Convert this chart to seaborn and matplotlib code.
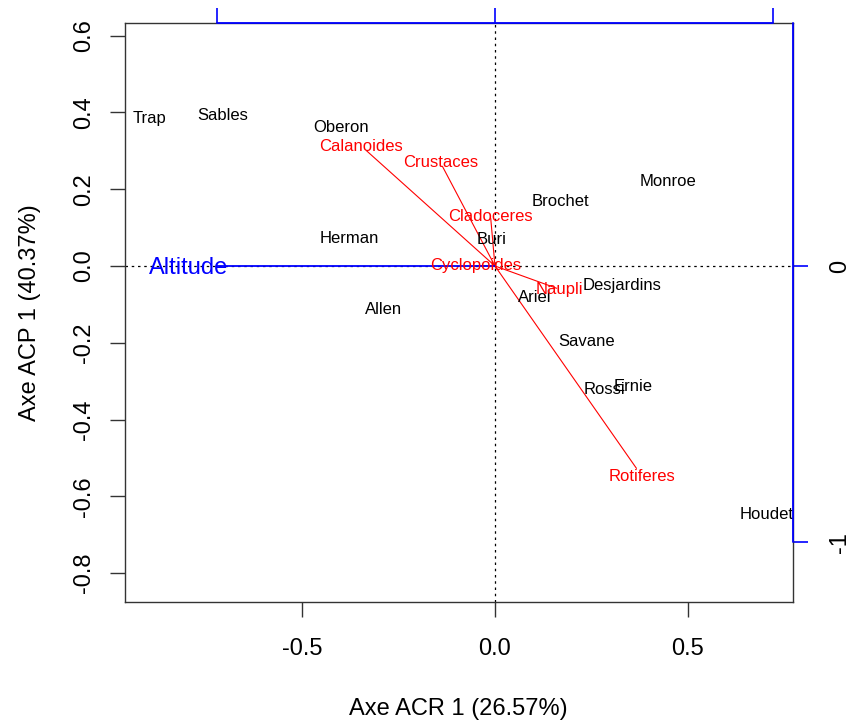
import pandas as pd
import matplotlib
matplotlib.use("Agg")
import matplotlib.pyplot as plt
import seaborn as sns

# ------------------------- DATA ------------------------- #

# site scores (lakes), first two axes
sites = ["Trap", "Sables", "Oberon", "Herman", "Allen", "Buri", "Brochet",
         "Monroe", "Desjardins", "Ariel", "Savane", "Rossi", "Ernie", "Houdet"]
site_x = [-0.897, -0.707, -0.398, -0.379, -0.290, -0.009, 0.171,
          0.449, 0.329, 0.104, 0.238, 0.285, 0.359, 0.705]
site_y = [0.385, 0.393, 0.360, 0.072, -0.113, 0.068, 0.169,
          0.219, -0.052, -0.082, -0.197, -0.321, -0.314, -0.648]

# species scores (arrows)
species = ["Calanoides", "Crustaces", "Cladoceres", "Cyclopoides", "Naupli", "Rotiferes"]
spec_x = [-0.333, -0.136, -0.011, -0.049, 0.160, 0.367]
spec_y = [0.300, 0.259, 0.124, 0.001, -0.058, -0.527]

# environmental variable, on the secondary (blue) scale
env = ["Altitude"]
env_x = [-1.0]
env_y = [0.0]

x_ticks = [-0.5, 0.0, 0.5]
y_ticks = [-0.8, -0.6, -0.4, -0.2, 0.0, 0.2, 0.4, 0.6]
sec_x_ticks = [-1, 0, 1]
sec_y_ticks = [0, -1]

x_title = "Axe ACR 1 (26.57%)"
y_title = "Axe ACP 1 (40.37%)"

# secondary scale -> primary scale
KX, KY = 0.7215, 0.7195
XLIM = (-0.9603, 0.7728)
YLIM = (-0.875, 0.6328)

# ------------------------- PLOT ------------------------- #

sns.set_theme(style="ticks")
plt.rcParams["font.family"] = ["Liberation Sans", "DejaVu Sans"]
plt.rcParams["text.color"] = "black"
plt.rcParams["xtick.labelcolor"] = "black"
plt.rcParams["ytick.labelcolor"] = "black"

fig = plt.figure(figsize=(8.51, 7.27), dpi=100)
ax = fig.add_axes([0.1465, 0.1719, 0.7853, 0.7965])

ax.axhline(0, color="black", lw=0.9, ls=(0, (2, 3)), zorder=1)
ax.axvline(0, color="black", lw=0.9, ls=(0, (2, 3)), zorder=1)

# species arrows (origin -> score)
rows = []
for name, x, y in zip(species, spec_x, spec_y):
    rows.append({"species": name, "x": 0.0, "y": 0.0})
    rows.append({"species": name, "x": x, "y": y})
arrows = pd.DataFrame(rows)
sns.lineplot(data=arrows, x="x", y="y", units="species", estimator=None,
             sort=False, color="red", lw=0.8, ax=ax, legend=False, zorder=3)

# environmental arrow (blue)
env_rows = []
for name, x, y in zip(env, env_x, env_y):
    env_rows.append({"var": name, "x": 0.0, "y": 0.0})
    env_rows.append({"var": name, "x": x * KX, "y": y * KY})
env_df = pd.DataFrame(env_rows)
sns.lineplot(data=env_df, x="x", y="y", units="var", estimator=None,
             sort=False, color="blue", lw=1.3, ax=ax, legend=False, zorder=3)

# site labels
for name, x, y in zip(sites, site_x, site_y):
    ax.text(x, y, name, color="black", fontsize=12, ha="center", va="center", zorder=4)

# species labels
for name, x, y in zip(species, spec_x, spec_y):
    ax.text(x * 1.04, y * 1.04, name, color="red", fontsize=12,
            ha="center", va="center", zorder=4)

for name, x, y in zip(env, env_x, env_y):
    ax.text(x * KX * 1.1, y * KY * 1.1 - 0.006, name, color="blue", fontsize=17,
            ha="center", va="center", zorder=4)

ax.set_xlim(*XLIM)
ax.set_ylim(*YLIM)
ax.set_xlabel("")
ax.set_ylabel("")

ax.set_xticks(x_ticks)
ax.set_xticklabels([f"{v:.1f}" for v in x_ticks])
ax.set_yticks(y_ticks)
ax.set_yticklabels([f"{v:.1f}" for v in y_ticks], rotation=90, va="center")
ax.tick_params(axis="x", direction="out", length=10.8, width=1.0, color="#333333",
               labelsize=17, labelcolor="black", pad=15)
ax.tick_params(axis="y", direction="out", length=10.8, width=1.0, color="#333333",
               labelsize=17, labelcolor="black", pad=10.5)

for sp in ax.spines.values():
    sp.set_visible(True)
    sp.set_color("#333333")
    sp.set_linewidth(1.0)

# secondary (blue) axes
secx = ax.secondary_xaxis("top", functions=(lambda v: v / KX, lambda v: v * KX))
secx.set_xticks(sec_x_ticks)
secx.set_xticklabels([])
secx.tick_params(direction="out", length=10.8, width=1.2, color="blue")
secx.spines["top"].set_visible(False)

secy = ax.secondary_yaxis("right", functions=(lambda v: v / KY, lambda v: v * KY))
secy.set_yticks(sec_y_ticks)
secy.set_yticklabels([str(v) for v in sec_y_ticks], rotation=90, va="center")
secy.tick_params(direction="out", length=10.8, width=1.2, color="blue",
                 labelcolor="black", labelsize=17, pad=15)
secy.spines["right"].set_visible(False)

ax.plot([sec_x_ticks[0] * KX, sec_x_ticks[-1] * KX], [YLIM[1], YLIM[1]],
        color="blue", lw=1.3, clip_on=False, zorder=6)
ax.plot([XLIM[1], XLIM[1]], [YLIM[1], sec_y_ticks[-1] * KY],
        color="blue", lw=1.3, clip_on=False, zorder=6)

fig.text(0.539, 0.025, x_title, fontsize=17, ha="center", va="center")
fig.text(0.035, 0.570, y_title, fontsize=17, ha="center", va="center", rotation=90)

fig.savefig("out.png", dpi=100)
